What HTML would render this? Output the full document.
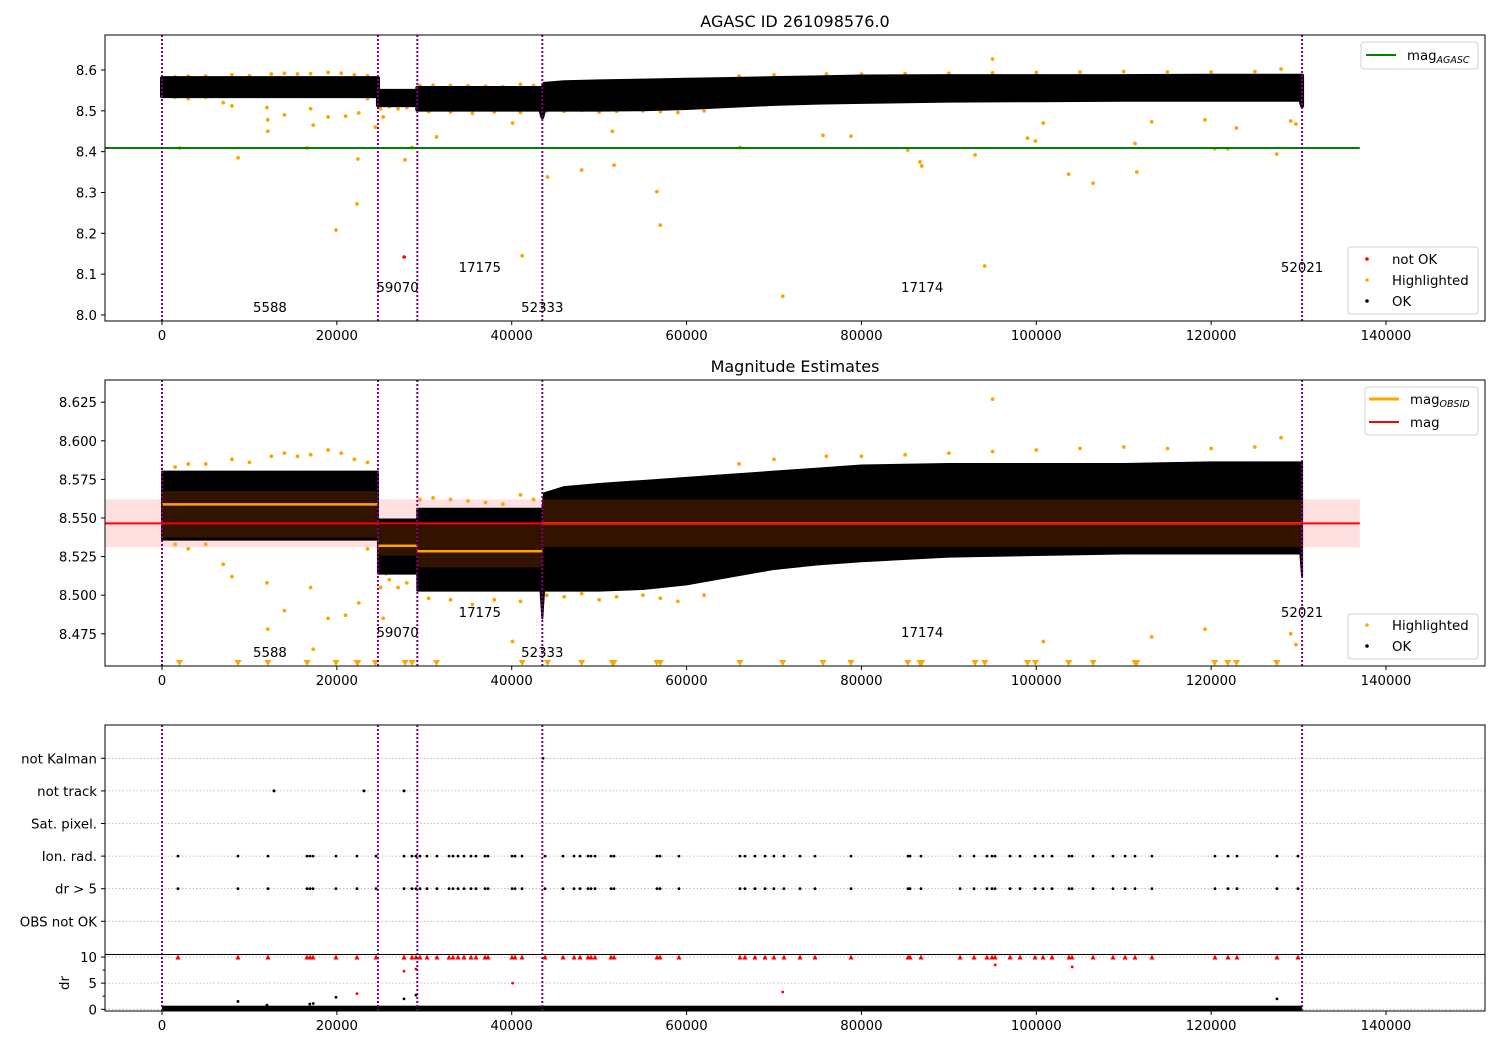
<!DOCTYPE html>
<html><head><meta charset="utf-8">
<style>
html,body{margin:0;padding:0;background:#fff;}
svg{display:block;font-family:"DejaVu Sans","Liberation Sans",sans-serif;}
</style></head>
<body>
<svg id="fig" width="1500" height="1050" viewBox="0 0 1500 1050" xmlns="http://www.w3.org/2000/svg">
<defs>
<clipPath id="c1"><rect x="105" y="35" width="1380" height="286"/></clipPath>
<clipPath id="c2"><rect x="105" y="380" width="1380" height="286"/></clipPath>
<clipPath id="c3"><rect x="105" y="725" width="1380" height="286"/></clipPath>
</defs>
<rect width="1500" height="1050" fill="#fff"/>
<text x="795" y="27" text-anchor="middle" font-size="16">AGASC ID 261098576.0</text>
<text x="795" y="372" text-anchor="middle" font-size="16">Magnitude Estimates</text>
<g id="p1" clip-path="url(#c1)"></g>
<g id="p2" clip-path="url(#c2)"></g>
<g id="p3" clip-path="url(#c3)"></g>
<g id="ax"></g>
</svg>
<script>
// ---- data ----
const xTicks = [0,20000,40000,60000,80000,100000,120000,140000];
const p1Ticks = [8.0,8.1,8.2,8.3,8.4,8.5,8.6];
const p2Ticks = [8.475,8.500,8.525,8.550,8.575,8.600,8.625];
const obsStarts = [0,24700,29200,43500,130400];
const obsLabels = ['5588','59070','17175','52333','17174','52021'];
const obsLabelX = [12350,26950,36350,43500,86950,130400];
const obsLabelRow = [0,1,2,0,1,2];
const envX  = [0,24700,24700,29200,29200,43300,43500,43700,46000,50000,55000,60000,65000,70000,75000,80000,90000,100000,110000,120000,130200,130400];
const envLo = [8.536,8.536,8.514,8.514,8.503,8.503,8.485,8.503,8.503,8.503,8.504,8.507,8.512,8.517,8.520,8.522,8.525,8.526,8.527,8.527,8.527,8.512];
const envHi = [8.580,8.580,8.549,8.549,8.556,8.556,8.556,8.566,8.570,8.572,8.574,8.576,8.578,8.580,8.582,8.584,8.585,8.585,8.585,8.586,8.586,8.586];
const segStart = [0,24700,29200,43500];
const segEnd = [24700,29200,43500,130400];
const segMean = [8.5588,8.532,8.5285,8.5465];
const segLo = [8.5373,8.5256,8.518,8.531];
const segHi = [8.5675,8.5455,8.5465,8.562];
const magAgasc = 8.409;
const magMean = 8.5465, magLo = 8.531, magHi = 8.562;
const hlX = [2000,8700,12100,12100,16600,17300,19900,22300,22400,21000,24400,25300,25600,27800,28600,31400,41200,40100,44100,48000,51700,51500,56600,57000,66100,71000,75600,78800,85300,86700,86900,93000,94100,95000,99000,99900,100800,103700,106500,111500,111300,113200,119300,120400,121900,122900,127500,129100,129700,
 1500,3000,5000,8000,10000,12500,14000,15500,17000,19000,20500,22000,23500,
 1500,3000,5000,7000,8000,12000,14000,17000,19000,22500,23500,
 25000,26000,27000,28000,29500,31000,33000,35000,37000,39000,41000,42500,30500,33000,35500,38000,41000,
 66000,70000,76000,80000,85000,90000,95000,100000,105000,110000,115000,120000,125000,128000,
 44000,46000,48000,50000,52000,55000,57000,59000,62000];
const hlMag = [8.409,8.385,8.45,8.478,8.409,8.465,8.208,8.272,8.382,8.487,8.46,8.485,8.514,8.38,8.41,8.436,8.145,8.47,8.338,8.355,8.367,8.45,8.302,8.22,8.41,8.046,8.44,8.438,8.404,8.375,8.365,8.392,8.12,8.627,8.433,8.426,8.47,8.345,8.323,8.35,8.42,8.473,8.478,8.407,8.407,8.458,8.394,8.475,8.468,
 8.583,8.585,8.585,8.588,8.586,8.590,8.592,8.590,8.591,8.594,8.592,8.588,8.586,
 8.533,8.530,8.533,8.520,8.512,8.508,8.490,8.505,8.485,8.495,8.530,
 8.505,8.510,8.505,8.508,8.562,8.563,8.562,8.561,8.560,8.559,8.565,8.562,8.498,8.497,8.494,8.497,8.496,
 8.585,8.588,8.590,8.590,8.591,8.592,8.593,8.594,8.595,8.596,8.595,8.595,8.596,8.602,
 8.500,8.499,8.501,8.497,8.499,8.500,8.498,8.496,8.500];
const notOkX = [27700];
const notOkMag = [8.142];
const cats = ['OBS not OK','dr > 5','Ion. rad.','Sat. pixel.','not track','not Kalman'];
const flagX = [1830,8690,12120,16590,16930,17270,19900,22300,24480,27680,28590,29050,29510,30310,31450,32830,33280,33860,34540,35340,35910,36950,37290,40030,40380,41180,43810,45870,47130,47810,48730,49070,49530,51360,51700,56620,56960,59130,66110,66680,67820,68970,69990,71140,72970,74690,78810,85330,85560,86810,91280,92880,94360,94930,95280,97000,98140,99860,100770,101800,103740,104090,106490,108770,110150,111290,113230,120440,121930,122950,127530,129930];
const notTrackX = [12810,23100,27680];
const notKalmanX = [43600];
const drTicks = [0,5,10];
const drRedX = [27680,29050,22300,40100,71000,95300,104100];
const drRedV = [7.3,7.7,3.0,5.0,3.3,8.5,8.1];
const drBlackX = [8690,19900,27680,29050,127530,16900,17300,12000];
const drBlackV = [1.5,2.3,2.0,2.7,2.0,1.0,1.1,0.8];
const drBaseHi = 0.5;

// ---- scales ----
const NS='http://www.w3.org/2000/svg';
const xs = v => 162 + v*0.0087429;
const y1 = m => 70 + (8.6-m)*408.3;
const y2 = m => 518 + (8.55-m)*1544;
const yc = i => 921.3 - i*32.6;
const yd = d => 1009.3 - d*5.23;
function mk(parent, tag, attrs, txt){
  const e=document.createElementNS(NS,tag);
  for(const k in attrs) e.setAttribute(k,attrs[k]);
  if(txt!==undefined) e.textContent=txt;
  parent.appendChild(e); return e;
}
const P1=document.getElementById('p1'), P2=document.getElementById('p2'), P3=document.getElementById('p3'), AX=document.getElementById('ax');

function envPath(yf){
  let d='M'+xs(envX[0])+','+yf(envHi[0]);
  for(let i=1;i<envX.length;i++) d+=' L'+xs(envX[i])+','+yf(envHi[i]);
  for(let i=envX.length-1;i>=0;i--) d+=' L'+xs(envX[i])+','+yf(envLo[i]);
  return d+'Z';
}
function vlines(g,top,bot,nm){
  obsStarts.forEach(v=>{
    const l=mk(g,'line',{x1:xs(v),x2:xs(v),y1:top,y2:bot,stroke:'#800080','stroke-width':2,'stroke-dasharray':'2,2'});
    
    
  });
}
function obsText(g,bottom,nm){
  obsLabels.forEach((t,i)=>{
    const e=mk(g,'text',{x:xs(obsLabelX[i]),y:bottom-9-obsLabelRow[i]*20,'text-anchor':'middle','font-size':13.3},t);
    
    
  });
}

// ---- panel 1 ----
let e;
hlX.forEach((v,i)=>{
  const c=mk(P1,'circle',{cx:xs(v),cy:y1(hlMag[i]),r:1.9,fill:'#ffa500'});
  
  
});
e=mk(P1,'path',{d:envPath(y1),fill:'#000',stroke:'#000','stroke-width':4,'stroke-linejoin':'round'});


e=mk(P1,'line',{x1:105,x2:xs(137000),y1:y1(magAgasc),y2:y1(magAgasc),stroke:'#008000','stroke-width':2});


notOkX.forEach((v,i)=>{
  const c=mk(P1,'circle',{cx:xs(v),cy:y1(notOkMag[i]),r:1.8,fill:'#ff0000'});
  
  
});
vlines(P1,35,321,'p1');
obsText(P1,321,'p1');

// ---- panel 2 ----
e=mk(P2,'rect',{x:105,y:y2(magHi),width:xs(137000)-105,height:y2(magLo)-y2(magHi),fill:'rgba(255,0,0,0.12)'});


hlX.forEach((v,i)=>{
  const m=hlMag[i];
  if(m<8.465){
    const x=xs(v);
    const t=mk(P2,'polygon',{points:(x-3.5)+',660 '+(x+3.5)+',660 '+x+',666',fill:'#ffa500'});
    
    
  } else {
    const c=mk(P2,'circle',{cx:xs(v),cy:y2(m),r:1.9,fill:'#ffa500'});
    
    
  }
});
e=mk(P2,'path',{d:envPath(y2),fill:'#000',stroke:'#000','stroke-width':2,'stroke-linejoin':'round'});


segStart.forEach((s,i)=>{
  const r=mk(P2,'rect',{x:xs(s),y:y2(segHi[i]),width:xs(segEnd[i])-xs(s),height:y2(segLo[i])-y2(segHi[i]),fill:'#3a1600',opacity:0.85});
  
  
});
segStart.forEach((s,i)=>{
  const l=mk(P2,'line',{x1:xs(s),x2:xs(segEnd[i]),y1:y2(segMean[i]),y2:y2(segMean[i]),stroke:'#ffa500','stroke-width':2.5});
  
  
});
e=mk(P2,'line',{x1:105,x2:xs(137000),y1:y2(magMean),y2:y2(magMean),stroke:'#ff0000','stroke-width':2});


vlines(P2,380,666,'p2');
obsText(P2,666,'p2');

// ---- panel 3 ----
cats.forEach((c,i)=>{
  const l=mk(P3,'line',{x1:105,x2:1485,y1:yc(i),y2:yc(i),stroke:'#b0b0b0','stroke-width':0.8,'stroke-dasharray':'1.5,2'});
  
  
});
drTicks.forEach(d=>{
  const l=mk(P3,'line',{x1:105,x2:1485,y1:yd(d),y2:yd(d),stroke:'#b0b0b0','stroke-width':0.8,'stroke-dasharray':'1.5,2'});
  
  
});
flagX.forEach(v=>{
  [1,2].forEach(row=>{
    const c=mk(P3,'circle',{cx:xs(v),cy:yc(row),r:1.4,fill:'#000'});
    
    
  });
  const x=xs(v), y=yd(10);
  const t=mk(P3,'polygon',{points:(x-2.5)+','+(y+2.5)+' '+(x+2.5)+','+(y+2.5)+' '+x+','+(y-2.5),fill:'#ff0000'});
  
  
});
notTrackX.forEach(v=>{
  const c=mk(P3,'circle',{cx:xs(v),cy:yc(4),r:1.5,fill:'#000'});
  
  
});
notKalmanX.forEach(v=>{
  const c=mk(P3,'circle',{cx:xs(v),cy:yc(5),r:1.3,fill:'#000'});
  
  
});
e=mk(P3,'rect',{x:xs(0),y:yd(drBaseHi)-1,width:xs(130400)-xs(0),height:yd(0)-yd(drBaseHi)+3,fill:'#000'});


drBlackX.forEach((v,i)=>{
  const c=mk(P3,'circle',{cx:xs(v),cy:yd(drBlackV[i]),r:1.4,fill:'#000'});
  
  
});
drRedX.forEach((v,i)=>{
  const c=mk(P3,'circle',{cx:xs(v),cy:yd(drRedV[i]),r:1.4,fill:'#ff0000'});
  
  
});
vlines(P3,725,1011,'p3');

// ---- axes frames, ticks ----
function frame(top,h,nm){
  const r=mk(AX,'rect',{x:105,y:top,width:1380,height:h,fill:'none',stroke:'#000','stroke-width':1});
  
  
}
function xaxis(bottom,labels,nm){
  xTicks.forEach(v=>{
    const x=xs(v);
    const t=mk(AX,'line',{x1:x,x2:x,y1:bottom,y2:bottom+4,stroke:'#000'});
    
    
    if(labels){
      const l=mk(AX,'text',{x:x,y:bottom+19,'text-anchor':'middle','font-size':13.3},String(v));
      
      
    }
  });
}
function yaxis(ticks,yf,fmt,nm){
  ticks.forEach(v=>{
    const y=yf(v);
    const t=mk(AX,'line',{x1:101,x2:105,y1:y,y2:y,stroke:'#000'});
    
    
    const l=mk(AX,'text',{x:97,y:y+5,'text-anchor':'end','font-size':13.3},fmt(v));
    
    
  });
}
frame(35,286,'p1-frame'); frame(380,286,'p2-frame'); frame(725,286,'p3-frame');
e=mk(AX,'line',{x1:105,x2:1485,y1:954.5,y2:954.5,stroke:'#000'});


xaxis(321,true,'p1-x'); xaxis(666,true,'p2-x'); xaxis(1011,true,'p3-x');
yaxis(p1Ticks,y1,v=>v.toFixed(1),'p1-y');
yaxis(p2Ticks,y2,v=>v.toFixed(3),'p2-y');
yaxis(cats.map((c,i)=>i),yc,i=>cats[i],'flag-y');
yaxis(drTicks,yd,v=>String(v),'dr-y');
[2.5,7.5].forEach(v=>{
  const t=mk(AX,'line',{x1:102.5,x2:105,y1:yd(v),y2:yd(v),stroke:'#000'});
  
  
});
e=mk(AX,'text',{x:0,y:0,'font-size':13.3,'text-anchor':'middle',transform:'translate(69,983) rotate(-90)'},'dr');



// ---- legends ----
function box(x,y,w,h,nm){
  const r=mk(AX,'rect',{x:x,y:y,width:w,height:h,rx:3,fill:'rgba(255,255,255,0.85)',stroke:'#d0d0d0'});
  
  
}
function entryLine(x,y,col,w,label,sub,nm){
  const l=mk(AX,'line',{x1:x,x2:x+30,y1:y,y2:y,stroke:col,'stroke-width':w});
  
  
  const t=mk(AX,'text',{x:x+41,y:y+5,'font-size':13.3},label);
  
  
  if(sub){ mk(t,'tspan',{'font-size':9.5,'font-style':'italic',dy:3},sub); }
}
function entryDot(x,y,col,label,nm){
  const c=mk(AX,'circle',{cx:x,cy:y,r:1.8,fill:col});
  
  
  const t=mk(AX,'text',{x:x+25,y:y+5,'font-size':13.3},label);
  
  
}
box(1361,42,117,27,'legend-agasc');
entryLine(1366,55,'#008000',2,'mag','AGASC','legend-entry-mag-agasc');
box(1348,247,130,67,'legend-status-p1');
entryDot(1367,259,'#ff0000','not OK','legend-entry-not-ok');
entryDot(1367,280,'#ffa500','Highlighted','legend-entry-highlighted');
entryDot(1367,301,'#000','OK','legend-entry-ok');
box(1365,387,113,48,'legend-mag-lines');
entryLine(1369,399,'#ffa500',3,'mag','OBSID','legend-entry-mag-obsid');
entryLine(1369,422,'#ff0000',2,'mag','','legend-entry-mag');
box(1348,614,130,45,'legend-status-p2');
entryDot(1367,625,'#ffa500','Highlighted','legend-entry-highlighted-p2');
entryDot(1367,646,'#000','OK','legend-entry-ok-p2');
</script>
</body></html>
